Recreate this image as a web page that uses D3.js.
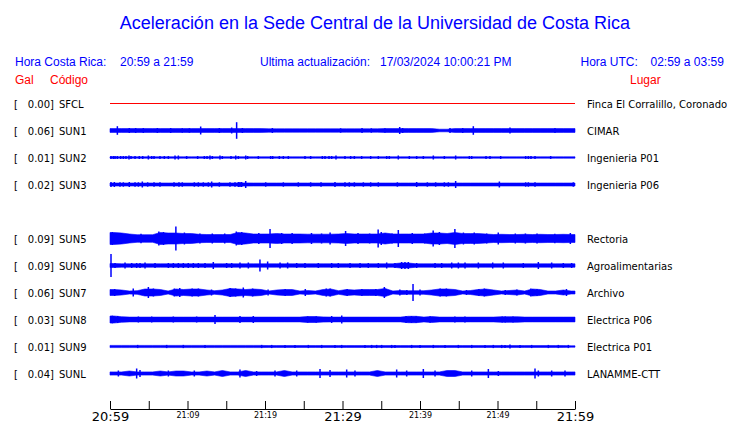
<!DOCTYPE html>
<html><head><meta charset="utf-8">
<script src="https://cdn.jsdelivr.net/npm/d3@7"></script>
<style>
body{margin:0;background:#fff;}
svg{display:block;}
</style></head>
<body><svg id="c" width="740" height="423"></svg>
<script>
// ---------------- DATA ----------------
const title = "Aceleración en la Sede Central de la Universidad de Costa Rica";
const headerLocal = ["Hora Costa Rica:", "20:59 a 21:59"];
const headerUpdate = ["Ultima actualización:", "17/03/2024 10:00:21 PM"];
const headerUTC = ["Hora UTC:", "02:59 a 03:59"];
const colHeaders = ["Gal", "Código", "Lugar"];

// slots (an empty slot between SUN3 and SUN5)
const slots = ["SFCL","SUN1","SUN2","SUN3","","SUN5","SUN6","SUN7","SUN8","SUN9","SUNL"];
const codes = ["SFCL","SUN1","SUN2","SUN3","SUN5","SUN6","SUN7","SUN8","SUN9","SUNL"];
const gals  = ["0.00","0.06","0.01","0.02","0.09","0.09","0.06","0.03","0.01","0.04"];
const places = ["Finca El Corralillo, Coronado","CIMAR","Ingenieria P01","Ingenieria P06",
  "Rectoria","Agroalimentarias","Archivo","Electrica P06","Electrica P01","LANAMME-CTT"];
const traceColors = ["#ff0000","#0000ff","#0000ff","#0000ff","#0000ff","#0000ff","#0000ff","#0000ff","#0000ff","#0000ff"];

// time axis (minutes after 20:59)
const tickMinutes = [0,5,10,15,20,25,30,35,40,45,50,55,60];
const labelMinutes = [0,10,20,30,40,50,60];
const tickLabels = ["20:59","21:09","21:19","21:29","21:39","21:49","21:59"];
const bigLabels = ["20:59","21:29","21:59"];

// envelope half-amplitude per minute (relative amplitude units)
const baseSFCL = [0,0,0,0,0,0,0,0,0,0,0,0,0,0,0,0,0,0,0,0,0,0,0,0,0,0,0,0,0,0,
                  0,0,0,0,0,0,0,0,0,0,0,0,0,0,0,0,0,0,0,0,0,0,0,0,0,0,0,0,0,0];
const baseSUN1 = [1.9,1.9,1.9,1.9,1.9,1.9,1.9,1.9,1.9,1.9,1.9,1.9,1.9,1.9,1.9,1.9,1.9,1.9,1.9,1.9,
                  1.7,1.7,1.7,1.7,1.7,1.7,1.7,1.7,1.7,1.7,1.7,1.7,1.7,1.7,1.7,1.9,1.9,1.9,1.9,1.9,
                  1.9,1.9,1.3,1.3,1.9,1.9,1.9,1.9,1.9,1.9,1.9,1.9,1.9,1.9,1.9,1.9,1.9,1.9,1.9,1.9];
const baseSUN2 = [0.7,0.7,0.7,0.7,0.7,0.7,0.7,0.7,0.7,0.7,0.7,0.7,0.7,0.7,0.7,0.7,0.7,0.7,0.7,0.7,
                  0.7,0.7,0.7,0.7,0.7,0.7,0.7,0.7,0.7,0.7,0.7,0.7,0.7,0.7,0.7,0.7,0.7,0.7,0.7,0.7,
                  0.7,0.7,0.7,0.7,0.7,0.7,0.7,0.7,0.7,0.7,0.7,0.7,0.7,0.7,0.7,0.7,0.7,0.7,0.7,0.7];
const baseSUN3 = [1.5,1.5,1.5,1.5,1.5,1.5,1.5,1.5,1.5,1.5,1.5,1.5,1.5,1.5,1.5,1.5,1.6,1.6,1.5,1.5,
                  1.5,1.5,1.5,1.5,1.5,1.5,1.5,1.5,1.5,1.5,1.5,1.5,1.5,1.5,1.5,1.5,1.5,1.5,1.5,1.5,
                  1.5,1.5,1.5,1.5,1.5,1.5,1.5,1.5,1.5,1.5,1.5,1.5,1.5,1.5,1.5,1.5,1.5,1.5,1.5,1.5];
const baseSUN5 = [6,5.5,4.5,3.8,3.8,3.8,6,5.5,5.5,5,5,4.2,4,4,4,4,6,5.5,4.5,4.5,
                  4.5,5,4.5,4.5,4.5,4.3,4.3,4.3,4.3,4.5,5,4.5,4.5,4.5,4.5,5.5,4.5,4.5,4.5,4.5,
                  4.5,5.5,5.5,5,6,5,5,5,4.5,4,4.2,4,4,4.2,4,4.2,4,4,4.2,4];
const baseSUN6 = [2.0,1.7,1.7,1.7,1.7,1.7,1.7,1.7,1.7,1.7,1.7,1.7,1.7,1.7,1.7,1.7,1.7,1.7,1.7,1.7,
                  1.7,1.7,1.7,1.7,1.7,1.7,1.7,1.7,1.7,1.7,1.7,1.7,1.7,1.7,1.7,1.7,1.7,2.5,2.5,1.7,
                  1.7,1.7,1.7,1.7,1.8,1.8,1.7,1.7,1.7,1.7,1.7,1.7,1.7,1.7,1.7,1.7,1.7,1.7,1.7,1.7];
const baseSUN7 = [3,2.5,1.5,1.8,3.5,3.5,3,1.5,3.5,3,3.5,3.5,2.5,1.8,2.5,4,3.5,3,3.5,3,
                  1.5,2.5,3,3,1.5,2,1.5,3,3.5,1.8,3,2.5,3,3,3,4,1.5,2,1.8,1.8,
                  1.8,2.5,3.5,3.5,3,1.5,2,3,3.5,2.5,1.5,2,2.5,1.5,3.5,3,1.5,1.5,2.5,1.5];
const baseSUN8 = [3.5,2.8,2.4,2.4,2.4,2.4,2.4,2.4,2.4,2.4,2.4,2.4,2.4,2.4,2.4,2.4,2.4,2.4,2.4,2.4,
                  2.4,2.4,2.4,2.4,2.4,3,3,2.6,2.4,2.4,2.4,2.4,2.4,2.4,2.4,2.4,2.4,2.4,3.2,3.2,
                  2.4,3,2.4,2.4,2.4,2.4,2.4,2.4,2.4,2.4,2.8,2.8,2.8,2.4,2.4,2.4,2.4,2.4,2.4,2.4];
const baseSUN9 = [1.1,1.1,1.1,1.1,1.1,1.1,1.1,1.1,1.1,1.1,1.1,1.1,1.1,1.1,1.1,1.1,1.1,1.1,1.1,1.1,
                  0.9,0.9,0.9,0.9,0.9,0.9,0.9,0.9,0.9,0.9,0.9,0.9,0.9,0.9,0.9,0.9,0.9,0.9,0.9,0.9,
                  0.9,0.9,0.9,0.9,0.9,0.9,0.9,0.9,0.9,0.9,0.9,0.9,0.9,0.9,0.9,0.9,0.9,0.9,0.9,0.7];
const baseSUNL = [1.6,1.6,2.5,1.6,1.6,1.6,2.5,1.6,2.5,2.5,1.6,1.6,2.5,1.6,3,1.6,1.6,3,1.6,1.6,
                  1.6,1.6,3,1.6,1.6,1.6,1.6,1.6,1.6,1.6,1.6,1.6,1.6,1.6,3,1.6,1.6,1.6,1.6,1.6,
                  1.6,1.6,1.6,3,3,1.6,1.6,1.6,1.6,1.6,1.6,1.6,1.6,1.6,1.6,1.6,1.6,1.6,1.6,1.6];

// spikes: [minute, half-amplitude]
const spikesSFCL = [];
const spikesSUN1 = [[0.95,4.3],[2.49,2.5],[3.31,2.5],[4.30,2.5],[6.11,2.5],[7.83,2.5],[9.33,2.2],[10.24,2.2],
  [11.70,4],[14.11,2.5],[15.70,3],[16.34,8.3],[17.08,2.5],[20.95,2.5],[29.76,2.2],[32.52,2.5],[33.72,2.2],
  [35.48,2.2],[37.38,3.5],[37.76,2.5],[43.87,2.5],[45.51,2.5],[46.88,4.3],[51.61,3],[57.42,2.5]];
const spikesSUN2 = [[0.13,1.5],[0.43,1.5],[0.65,1.5],[0.95,1.5],[1.38,1.5],[1.72,1.5],[2.06,1.5],[2.45,2],
  [2.71,1.5],[3.23,1.5],[3.78,1.5],[4.22,1.5],[4.95,2],[5.38,1.5],[5.68,1.5],[6.45,1.5],[7.01,1.5],[7.53,1.5],
  [8.39,2],[8.82,2],[9.89,1.5],[11.31,1.5],[12.17,1.5],[12.52,1.5],[12.90,2],[13.20,1.5],[14.19,2],[14.49,1.5],
  [15.61,1.5],[16.22,2],[16.56,1.5],[17.51,2],[17.76,1.5],[19.14,1.5],[20.73,1.5],[20.99,1.5],[21.85,1.5],
  [22.37,1.5],[23.01,1.5],[25.16,1.5],[25.89,1.5],[27.40,1.5],[27.74,1.5],[28.26,1.5],[28.60,1.5],[29.16,2],
  [30.32,1.5],[31.05,1.5],[31.53,1.5],[32.47,1.5],[33.63,1.5],[34.62,1.5],[35.70,1.5],[36.04,1.5],[37.20,2],
  [38.62,1.5],[39.57,1.5],[40.43,1.5],[41.72,2],[43.14,1.5],[44.60,2],[46.37,1.5],[46.67,1.5],[48.52,1.5],
  [49.03,1.5],[50.41,1.5],[53.63,1.5],[53.98,1.5],[54.32,1.5],[54.84,1.5],[56.86,1.5]];
const spikesSUN3 = [[0.13,2.5],[0.56,2.5],[1.29,2.2],[1.72,2.2],[2.49,2.5],[3.23,2.2],[3.66,2.2],[4.17,3],
  [4.86,2.2],[5.68,2.2],[6.45,2.2],[8.26,2.2],[8.90,2.2],[9.33,2.2],[10.88,2.2],[11.40,2.2],[12.04,2.2],
  [12.69,2.2],[13.12,3],[14.11,2.2],[15.48,2.2],[16.13,2.2],[16.56,2.5],[16.77,2.5],[16.99,2.5],[17.51,3.5],
  [20.09,2.2],[22.37,2.2],[24.30,2.2],[25.89,2.2],[27.23,2.2],[29.03,2.5],[30.32,2.2],[30.88,2.2],[31.53,2.2],
  [32.69,2.2],[33.63,2.2],[34.62,2.2],[37.08,2.2],[39.57,2.5],[40.95,2.2],[42.02,2.2],[43.14,2.2],[43.66,2.2],
  [44.60,3.5],[50.24,3],[53.63,2.2],[53.98,2.2],[54.84,2.2],[59.78,2.2]];
const spikesSUN5 = [[0.3,6.5],[1.2,5.5],[4.0,4.8],[6.3,7],[6.9,6.5],[8.5,12],[9.6,6],[11.6,5],[13.2,5],
  [14.8,5],[16.3,7],[17.0,6.5],[19.2,5.5],[20.65,9.5],[22.15,5.5],[23.5,5.5],[26.0,5.5],[27.3,5],[28.4,6],
  [30.4,7.5],[32.0,5.5],[33.5,5],[34.6,9],[35.0,6.5],[36.4,5],[37.2,8.5],[39.0,5.5],[40.6,5],[41.7,8],
  [42.5,6.5],[44.5,9.5],[45.6,6],[47.0,6],[48.6,5],[50.1,6],[52.3,5],[53.6,5],[55.1,5],[57.4,4.8],[59.4,5.5]];
const spikesSUN6 = [[0.13,11.5],[0.65,2.5],[1.94,3],[2.80,2.5],[3.44,2.5],[3.87,2.5],[4.52,3],[5.81,2.5],
  [7.53,2.5],[8.17,2.5],[8.82,2.5],[9.46,2.5],[10.10,2.5],[10.75,2.5],[11.40,2.5],[12.26,2.5],[13.33,3.5],
  [15.05,2.5],[15.70,2.5],[16.77,3],[17.85,3],[19.35,6],[20.34,4],[21.94,3],[22.92,3],[24.09,2.5],[25.16,2.5],
  [26.88,2.5],[28.60,2.5],[29.46,2.5],[30.97,2.5],[32.26,2.5],[33.33,2.5],[34.62,2.5],[35.70,3],[36.77,2.5],
  [37.63,3.5],[38.06,3.5],[38.49,3.5],[39.57,2.5],[41.94,2.5],[42.80,2.5],[44.09,3],[44.95,3],[45.81,3],
  [47.53,3],[49.38,3],[50.75,3],[53.33,2.5],[55.27,3.5],[56.99,3],[58.49,2.5],[59.57,2.5]];
const spikesSUN7 = [[3.0,4],[4.95,5.5],[13.1,3],[17.2,5],[20.4,3],[25.2,3.5],[35.4,5.5],[37.4,3],[38.3,2.5],
  [39.1,8.5],[40.0,3],[46.0,2.5],[51.0,2.5],[52.5,3],[58.9,3.5],[9.0,4.5],[15.5,4.5],[27.9,4],[42.6,4],[48.3,4],
  [0.6,3.5],[5.6,4],[8.3,4],[10.6,4],[11.4,4],[16.2,4],[18.4,4],[22.6,3.5],[28.4,4],[30.6,3.5],[32.5,3.5],
  [34.3,3.5],[43.4,4],[47.6,3.5],[54.3,4],[55.1,3.5]];
const spikesSUN8 = [[0.3,3.8],[1.0,3.5],[3.66,3],[5.38,3],[8.17,3],[11.18,3],[13.55,4.5],[16.77,3.5],[18.49,3.5],
  [25.5,3.2],[26.6,3.2],[28.6,3.5],[29.9,4],[38.2,3.5],[38.9,3.5],[39.5,3.2],[41.3,3.2],[44.5,3],[45.8,3],
  [50.6,3],[51.0,3],[52.0,3]];
const spikesSUN9 = [[3.57,1.6],[7.31,1.6],[9.46,1.6],[12.26,1.6],[19.57,1.6],[20.86,1.6],[22.58,1.6],
  [23.87,1.6],[25.59,1.6],[27.31,1.6],[29.03,1.6],[29.89,1.6],[32.90,1.6],[33.76,1.6],[34.41,1.6],[35.05,1.6],
  [36.34,1.6],[36.77,1.6],[38.92,1.6],[40.00,1.6],[41.72,1.6],[43.23,1.6],[44.95,1.6],[46.67,1.6],[48.39,1.6],
  [49.46,1.6],[50.54,1.6],[50.97,1.6],[51.61,2],[52.90,1.6],[54.41,1.6],[56.56,1.6],[57.85,1.6],[59.14,1.6]];
const spikesSUNL = [[1.08,3],[3.44,5],[3.87,3.5],[7.53,3],[10.88,3],[16.77,4],[18.92,2.5],[21.29,3],
  [24.09,3],[27.10,4.5],[28.39,3.5],[30.54,4],[31.61,3],[36.99,4],[38.28,3],[40.43,4.5],[41.94,3],[46.67,3],
  [48.82,4.5],[50.11,2.5],[54.84,5],[55.27,3],[56.99,3],[58.71,3]];

const bases = [baseSFCL,baseSUN1,baseSUN2,baseSUN3,baseSUN5,baseSUN6,baseSUN7,baseSUN8,baseSUN9,baseSUNL];
const spikes = [spikesSFCL,spikesSUN1,spikesSUN2,spikesSUN3,spikesSUN5,spikesSUN6,spikesSUN7,spikesSUN8,spikesSUN9,spikesSUNL];

// ---------------- DRAW ----------------
const svg = d3.select("#c");
const blue = "#0000ff", red = "#ff0000";
const headFont = "'Liberation Sans', Arial, Helvetica, sans-serif";
const labFont = "'DejaVu Sans', sans-serif";

const x = d3.scaleLinear().domain([0, 60]).range([110, 575]);
const rowY = d3.scalePoint().domain(slots.map((s,i)=>i)).range([103.5, 373.5]);
const amp = d3.scaleLinear().domain([-13.5, 13.5]).range([13.5, -13.5]);

svg.append("text").attr("x", 375).attr("y", 29).attr("text-anchor","middle")
  .attr("font-family", headFont).attr("font-size", 18).attr("fill", blue).text(title);

function head(txt, xx, yy, col, anchor){
  svg.append("text").attr("x", xx).attr("y", yy).attr("text-anchor", anchor||"start")
    .attr("font-family", headFont).attr("font-size", 12).attr("fill", col).text(txt);
}
head(headerLocal[0], 15, 66, blue); head(headerLocal[1], 120, 66, blue);
head(headerUpdate[0], 260, 66, blue); head(headerUpdate[1], 380, 66, blue);
head(headerUTC[0], 580.5, 66, blue); head(headerUTC[1], 650.5, 66, blue);
head(colHeaders[0], 15, 84, red); head(colHeaders[1], 50, 84, red); head(colHeaders[2], 630, 84, red);

const area = d3.area().curve(d3.curveLinear)
  .x(d => x(d[0])).y0(d => amp(-d[1])).y1(d => amp(d[1]));

codes.forEach((code, i) => {
  const slot = slots.indexOf(code);
  const cy = rowY(slot);
  const g = svg.append("g").attr("transform", `translate(0,${cy})`);
  const col = traceColors[i];
  // labels
  g.append("text").attr("x", 14).attr("y", 4).attr("font-family", labFont).attr("font-size", 10).attr("fill","#000").text("[");
  g.append("text").attr("x", 54).attr("y", 4).attr("text-anchor","end").attr("font-family", labFont).attr("font-size", 10).attr("fill","#000").text(gals[i] + "]");
  g.append("text").attr("x", 59).attr("y", 4).attr("font-family", labFont).attr("font-size", 10).attr("fill","#000").text(code);
  g.append("text").attr("x", 587).attr("y", 4).attr("font-family", labFont).attr("font-size", 10).attr("fill","#000").text(places[i]);
  // trace
  const b = bases[i];
  const pts = [[0, b[0]]].concat(b.map((v, k) => [k + 0.5, v]), [[60, b[b.length-1]]]);
  const maxB = d3.max(b);
  if (maxB === 0) {
    g.append("line").attr("x1", x(0)).attr("x2", x(60)).attr("y1", amp(0)).attr("y2", amp(0))
      .attr("stroke", col).attr("stroke-width", 1);
  } else {
    g.append("path").attr("d", area(pts)).attr("fill", col).attr("stroke", col).attr("stroke-width", 0.6);
    g.selectAll("line.sp").data(spikes[i]).join("line").attr("class","sp")
      .attr("x1", d => x(d[0])).attr("x2", d => x(d[0]))
      .attr("y1", d => amp(-d[1])).attr("y2", d => amp(d[1]))
      .attr("stroke", col).attr("stroke-width", 1.5);
  }
});

// time axis
const axis = d3.axisBottom(x).tickValues(tickMinutes).tickSizeInner(-8).tickSizeOuter(0).tickPadding(3)
  .tickFormat(m => { const j = labelMinutes.indexOf(m); return j >= 0 ? tickLabels[j] : ""; });
const ax = svg.append("g").attr("transform", "translate(0,409)").call(axis);
ax.select(".domain").attr("stroke", "#000");
ax.selectAll(".tick line").attr("stroke", "#000");
ax.selectAll(".tick text").attr("fill", "#000").attr("font-family", labFont)
  .attr("font-size", function(){ return bigLabels.includes(this.textContent) ? 13 : 8; });
</script></body></html>
